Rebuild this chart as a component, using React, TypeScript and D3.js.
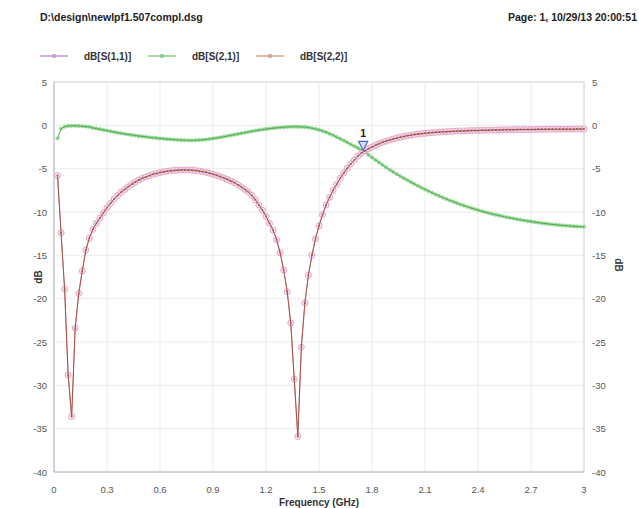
import React from 'react';
import * as d3 from 'd3';

// frequency sweep, 0.02 GHz steps from 0.02 to 3.00
const freqGHz = d3.range(1, 151).map((i) => +(i * 0.02).toFixed(2));

const s11Db = [
  -5.8, -12.4, -18.9, -28.8, -33.6, -23.4, -19.4, -16.8, -14.4, -13.0,
  -12.0, -11.3, -10.7, -10.1, -9.5, -9.0, -8.5, -8.1, -7.7, -7.4,
  -7.1, -6.8, -6.55, -6.3, -6.1, -5.95, -5.8, -5.65, -5.55, -5.45,
  -5.37, -5.3, -5.25, -5.2, -5.17, -5.15, -5.14, -5.15, -5.17, -5.21,
  -5.27, -5.34, -5.42, -5.52, -5.64, -5.77, -5.91, -6.06, -6.23, -6.42,
  -6.6, -6.85, -7.1, -7.4, -7.7, -8.1, -8.6, -9.2, -9.8, -10.5,
  -11.3, -12.1, -13.2, -14.7, -16.7, -19.2, -22.8, -29.3, -35.9, -25.6,
  -20.5, -17.3, -15.0, -13.1, -11.6, -10.3, -9.2, -8.3, -7.5, -6.8,
  -6.1, -5.5, -4.95, -4.45, -4.0, -3.55, -3.2, -2.95, -2.7, -2.5,
  -2.3, -2.12, -1.96, -1.82, -1.7, -1.58, -1.47, -1.37, -1.28, -1.2,
  -1.13, -1.07, -1.01, -0.96, -0.92, -0.88, -0.84, -0.81, -0.78, -0.75,
  -0.73, -0.71, -0.69, -0.67, -0.65, -0.64, -0.62, -0.61, -0.6, -0.59,
  -0.58, -0.57, -0.56, -0.55, -0.54, -0.53, -0.52, -0.51, -0.5, -0.5,
  -0.49, -0.49, -0.48, -0.48, -0.47, -0.47, -0.46, -0.46, -0.46, -0.45,
  -0.45, -0.45, -0.45, -0.44, -0.44, -0.44, -0.44, -0.43, -0.43, -0.43,
];

const s21Db = [
  -1.5, -0.4, -0.15, -0.07, -0.05, -0.05, -0.07, -0.1, -0.14, -0.18,
  -0.3, -0.37, -0.45, -0.53, -0.61, -0.69, -0.77, -0.85, -0.92, -0.99,
  -1.05, -1.11, -1.17, -1.23, -1.28, -1.33, -1.38, -1.43, -1.47, -1.51,
  -1.55, -1.59, -1.62, -1.65, -1.68, -1.7, -1.72, -1.73, -1.73, -1.72,
  -1.7, -1.67, -1.63, -1.58, -1.52, -1.46, -1.39, -1.32, -1.24, -1.16,
  -1.08, -1.0, -0.92, -0.84, -0.76, -0.69, -0.62, -0.55, -0.49, -0.43,
  -0.38, -0.33, -0.29, -0.25, -0.22, -0.19, -0.17, -0.16, -0.16, -0.18,
  -0.2, -0.25, -0.32, -0.41, -0.52, -0.65, -0.8, -0.97, -1.15, -1.34,
  -1.55, -1.76, -1.98, -2.2, -2.4, -2.62, -2.85, -3.1, -3.4, -3.7,
  -3.99, -4.28, -4.57, -4.85, -5.12, -5.38, -5.63, -5.87, -6.1, -6.33,
  -6.55, -6.77, -6.98, -7.19, -7.39, -7.59, -7.78, -7.97, -8.15, -8.33,
  -8.5, -8.66, -8.82, -8.97, -9.12, -9.26, -9.4, -9.53, -9.66, -9.78,
  -9.9, -10.01, -10.12, -10.22, -10.32, -10.41, -10.5, -10.59, -10.67, -10.75,
  -10.83, -10.9, -10.97, -11.04, -11.1, -11.16, -11.22, -11.28, -11.33, -11.38,
  -11.43, -11.47, -11.51, -11.55, -11.58, -11.61, -11.64, -11.67, -11.69, -11.71,
];

// symmetric filter: S22 lies right on top of S11
const s22Db = s11Db;

const xTicks = [0, 0.3, 0.6, 0.9, 1.2, 1.5, 1.8, 2.1, 2.4, 2.7, 3];
const yTicks = [5, 0, -5, -10, -15, -20, -25, -30, -35, -40];
const legendNames = ['dB[S(1,1)]', 'dB[S(2,1)]', 'dB[S(2,2)]'];
const markerFreq = 1.75;
const markerDb = -2.9;

const FONT = "'Liberation Sans', Arial, sans-serif";

export default function App() {
  const width = 639;
  const height = 508;
  const left = 54;
  const right = 584;
  const top = 82;
  const bottom = 472;

  const x = d3.scaleLinear().domain([0, 3]).range([left, right]);
  const y = d3.scaleLinear().domain([-40, 5]).range([bottom, top]);

  const line = d3
    .line<number>()
    .x((d, i) => x(freqGHz[i]))
    .y((d) => y(d));

  const legendColors = ['#b77fd6', '#6cc06c', '#c8906e'];
  const legendX = [40, 148, 256];

  const mx = x(markerFreq);
  const my = y(markerDb);

  return (
    <svg
      width={width}
      height={height}
      style={{ position: 'absolute', left: 0, top: 0, background: '#fff' }}
      fontFamily={FONT}
    >
      {/* header */}
      <text x={40} y={21} fontSize={10.5} fontWeight="bold" fill="#222">
        D:\design\newlpf1.507compl.dsg
      </text>
      <text x={637} y={21} fontSize={10.5} fontWeight="bold" fill="#222" textAnchor="end">
        Page: 1, 10/29/13 20:00:51
      </text>

      {/* legend */}
      {legendNames.map((name, i) => (
        <g key={name} transform={`translate(${legendX[i]},56)`}>
          <line x1={0} x2={28} y1={0} y2={0} stroke={legendColors[i]} strokeWidth={1.2} />
          <circle cx={14} cy={0} r={1.6} fill="none" stroke={legendColors[i]} />
          <text x={44} y={4} fontSize={10} fontWeight="bold" fill="#333">
            {name}
          </text>
        </g>
      ))}

      {/* grid */}
      {xTicks.map((t) => (
        <line key={'gx' + t} x1={x(t)} x2={x(t)} y1={top} y2={bottom} stroke="#ebebeb" />
      ))}
      {yTicks.map((t) => (
        <line key={'gy' + t} x1={left} x2={right} y1={y(t)} y2={y(t)} stroke="#ebebeb" />
      ))}
      <rect x={left} y={top} width={right - left} height={bottom - top} fill="none" stroke="#d4d8dc" />
      <line x1={left} x2={left} y1={top} y2={bottom} stroke="#b4c4d2" />
      <line x1={left} x2={right} y1={bottom} y2={bottom} stroke="#b4c4d2" />

      {/* tick labels */}
      {yTicks.map((t) => (
        <g key={'yl' + t}>
          <text x={47} y={y(t) + 3.5} fontSize={9.5} fill="#555" textAnchor="end">
            {t}
          </text>
          <text x={592} y={y(t) + 3.5} fontSize={9.5} fill="#555">
            {t}
          </text>
        </g>
      ))}
      {xTicks.map((t) => (
        <text key={'xl' + t} x={x(t)} y={493} fontSize={9.5} fill="#555" textAnchor="middle">
          {t}
        </text>
      ))}
      <text x={(left + right) / 2} y={506} fontSize={10} fontWeight="bold" fill="#333" textAnchor="middle">
        Frequency (GHz)
      </text>
      <text transform={`translate(42,${(top + bottom) / 2}) rotate(-90)`} fontSize={10} fontWeight="bold" fill="#333" textAnchor="middle">
        dB
      </text>
      <text transform={`translate(615,${(top + bottom) / 2 - 12}) rotate(90)`} fontSize={10} fontWeight="bold" fill="#333" textAnchor="middle">
        dB
      </text>

      {/* S21 */}
      {s21Db.map((v, i) => (
        <circle key={'s21' + i} cx={x(freqGHz[i])} cy={y(v)} r={1.7} fill="#9fe09f" stroke="#7acb7a" strokeWidth={0.6} />
      ))}
      <path d={line(s21Db) ?? ''} fill="none" stroke="#4aa44a" strokeWidth={0.9} />

      {/* S11 */}
      <path d={line(s11Db) ?? ''} fill="none" stroke="#d88ab8" strokeWidth={1} />
      {s11Db.map((v, i) => (
        <circle key={'s11' + i} cx={x(freqGHz[i])} cy={y(v)} r={3} fill="#f6dbe9" fillOpacity={0.7} stroke="#e2a4c6" strokeWidth={1} />
      ))}

      {/* S22 */}
      <path d={line(s22Db) ?? ''} fill="none" stroke="#a4553e" strokeWidth={1} />
      {s22Db.map((v, i) => (
        <circle key={'s22' + i} cx={x(freqGHz[i])} cy={y(v)} r={1} fill="#9a5a5a" />
      ))}

      {/* marker 1 */}
      <path
        d={`M${mx},${my} L${mx - 4.5},${my - 9} L${mx + 4.5},${my - 9} Z`}
        fill="#d6e0ff"
        stroke="#4a64c8"
        strokeWidth={1.2}
      />
      <text x={mx} y={my - 13} fontSize={10.5} fontWeight="bold" fill="#222" textAnchor="middle">
        1
      </text>
    </svg>
  );
}
